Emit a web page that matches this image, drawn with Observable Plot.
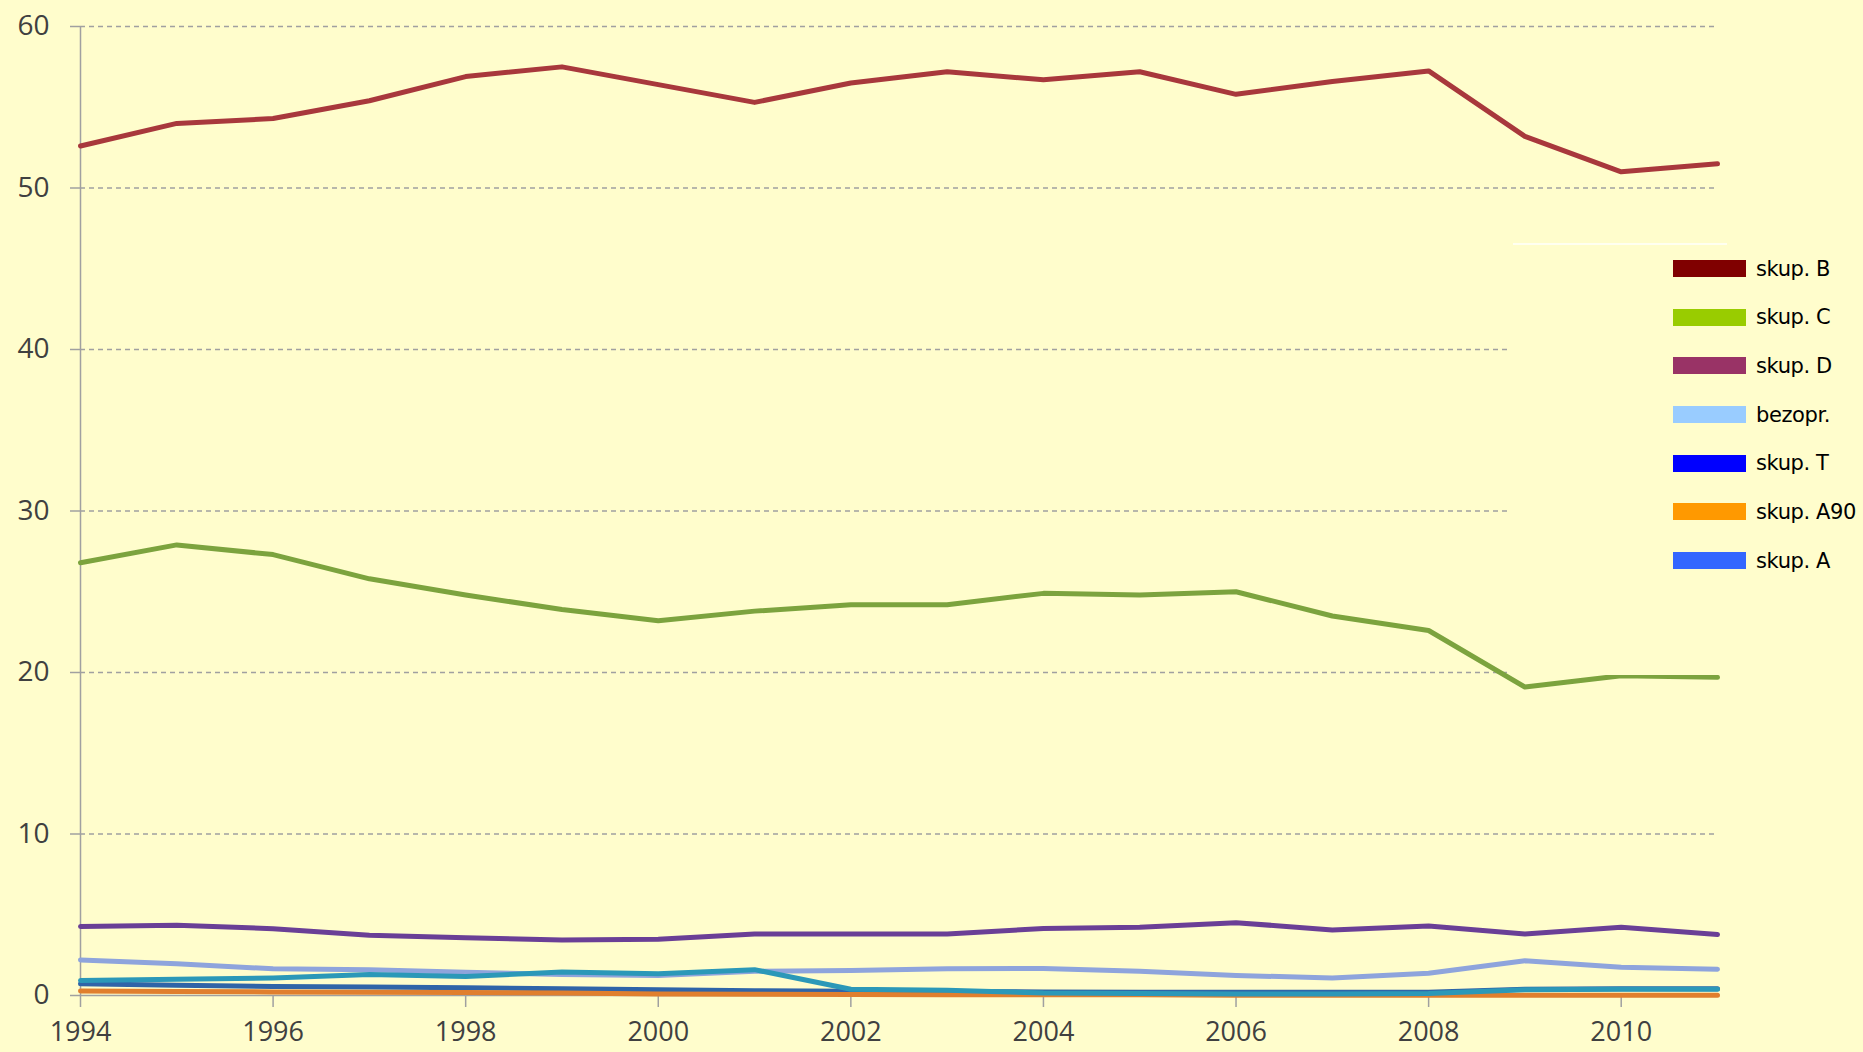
<!DOCTYPE html>
<html>
<head>
<meta charset="utf-8">
<script src="https://cdn.jsdelivr.net/npm/d3@7"></script>
<script src="https://cdn.jsdelivr.net/npm/@observablehq/plot@0.6"></script>
<style>
  html, body { margin: 0; padding: 0; background: #fffdcc; overflow: hidden; }
  #wrap { position: relative; width: 1863px; height: 1052px; background: #fffdcc; }
  #legend {
    position: absolute; left: 1510px; top: 243px; width: 353px; height: 432px;
    background: #fffdcc; box-sizing: border-box;
    font-family: "DejaVu Sans", sans-serif; font-size: 21px; color: #000;
  }
  #legend .topline { position: absolute; left: 3px; top: 0; width: 214px; height: 2px; background: #fffff0; }
  .item { position: absolute; left: 163px; height: 20px; display: flex; align-items: center; }
  .sw { width: 73px; height: 17px; margin-right: 10px; flex: none; }
  .lab { white-space: nowrap; letter-spacing: -0.4px; }
</style>
</head>
<body>
<div id="wrap"></div>
<script>
const years = [1994, 1995, 1996, 1997, 1998, 1999, 2000, 2001, 2002, 2003, 2004, 2005, 2006, 2007, 2008, 2009, 2010, 2011];
const seriesNames = ["skup. B", "skup. C", "skup. D", "bezopr.", "skup. T", "skup. A90", "skup. A"];
const skupB   = [52.6, 54.0, 54.3, 55.4, 56.9, 57.5, 56.4, 55.3, 56.5, 57.2, 56.7, 57.2, 55.8, 56.6, 57.25, 53.2, 51.0, 51.5];
const skupC   = [26.8, 27.9, 27.3, 25.8, 24.8, 23.9, 23.2, 23.8, 24.2, 24.2, 24.9, 24.8, 25.0, 23.5, 22.6, 19.1, 19.8, 19.7];
const skupD   = [4.27, 4.35, 4.14, 3.73, 3.57, 3.44, 3.48, 3.81, 3.81, 3.81, 4.15, 4.23, 4.51, 4.06, 4.31, 3.81, 4.23, 3.77];
const bezopr  = [2.2, 1.96, 1.65, 1.59, 1.44, 1.3, 1.24, 1.5, 1.55, 1.65, 1.67, 1.5, 1.24, 1.09, 1.38, 2.15, 1.75, 1.63];
const skupT   = [0.72, 0.64, 0.56, 0.52, 0.48, 0.42, 0.35, 0.3, 0.27, 0.25, 0.22, 0.2, 0.2, 0.2, 0.2, 0.38, 0.42, 0.42];
const skupA90 = [0.28, 0.25, 0.22, 0.2, 0.18, 0.15, 0.1, 0.08, 0.06, 0.05, 0.05, 0.04, 0.02, 0.02, 0.02, 0.02, 0.02, 0.02];
const skupA   = [0.93, 1.01, 1.09, 1.3, 1.17, 1.45, 1.35, 1.6, 0.39, 0.33, 0.15, 0.12, 0.1, 0.1, 0.12, 0.35, 0.38, 0.38];
const lineColors   = ["#a8383c", "#7ca33e", "#6a3f96", "#8ea4dc", "#2f64a8", "#e07f2e", "#2b98b8"];
const legendColors = ["#800000", "#99cc00", "#993366", "#99ccff", "#0000ff", "#ff9900", "#3366ff"];
const xTicks = [1994, 1996, 1998, 2000, 2002, 2004, 2006, 2008, 2010];
const yTicks = [0, 10, 20, 30, 40, 50, 60];
const gridTicks = [10, 20, 30, 40, 50, 60];

const seriesValues = [skupB, skupC, skupD, bezopr, skupT, skupA90, skupA];
const rows = [];
seriesNames.forEach((name, i) => {
  years.forEach((yr, j) => rows.push({series: name, year: yr, value: seriesValues[i][j]}));
});

const chart = Plot.plot({
  width: 1863,
  height: 1052,
  marginLeft: 80,
  marginRight: 146,
  marginTop: 26,
  marginBottom: 57,
  style: {background: "#fffdcc", fontFamily: "'Open Sans', sans-serif", fontSize: "28px", color: "#404040", overflow: "visible"},
  x: {domain: [1994, 2011]},
  y: {domain: [0, 60]},
  color: {domain: seriesNames, range: lineColors},
  marks: [
    Plot.gridY(gridTicks, {stroke: "#a0a0a0", strokeOpacity: 1, strokeWidth: 1.5, strokeDasharray: "5,4"}),
    Plot.ruleY([0], {stroke: "#a0a0a0", strokeWidth: 1.5}),
    Plot.ruleX([1994], {stroke: "#a0a0a0", strokeWidth: 1.5}),
    Plot.axisY({ticks: yTicks, tickSize: 10, tickPadding: 21, stroke: "#a0a0a0", strokeWidth: 1.5, fill: "#404040", fontSize: 28, label: null}),
    Plot.axisX({ticks: xTicks, tickSize: 12, tickPadding: 14, tickFormat: "d", stroke: "#a0a0a0", strokeWidth: 1.5, fill: "#404040", fontSize: 27, label: null}),
    Plot.line(rows, {x: "year", y: "value", z: "series", stroke: "series", strokeWidth: 5, strokeLinejoin: "round", strokeLinecap: "round"})
  ]
});

const wrap = document.getElementById("wrap");
wrap.appendChild(chart);

const legend = document.createElement("div");
legend.id = "legend";
const topline = document.createElement("div");
topline.className = "topline";
legend.appendChild(topline);
seriesNames.forEach((name, i) => {
  const item = document.createElement("div");
  item.className = "item";
  item.style.top = (15.5 + i * 48.67) + "px";
  const sw = document.createElement("div");
  sw.className = "sw";
  sw.style.background = legendColors[i];
  const lab = document.createElement("span");
  lab.className = "lab";
  lab.textContent = name;
  item.appendChild(sw);
  item.appendChild(lab);
  legend.appendChild(item);
});
wrap.appendChild(legend);
</script>
</body>
</html>
